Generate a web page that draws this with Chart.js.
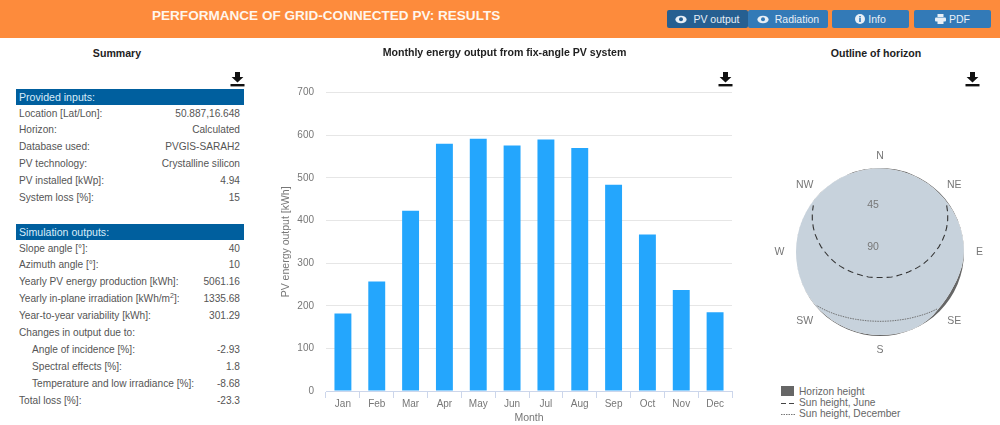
<!DOCTYPE html>
<html>
<head>
<meta charset="utf-8">
<title>PVGIS results</title>
<script src="https://cdn.jsdelivr.net/npm/chart.js@4"></script>
<style>
  html, body { margin: 0; padding: 0; background: #fff; }
  body { width: 1000px; height: 425px; position: relative; overflow: hidden; font-family: "Liberation Sans", Arial, sans-serif; }
  .topbar { position: absolute; left: 0; top: 0; width: 1000px; height: 38px; background: #fd8b3c; }
  .topbar h1 { position: absolute; left: 152px; top: 8px; margin: 0; font-size: 13.55px; line-height: 15px; font-weight: bold; color: #fff6ec; white-space: nowrap; }
  .btn { position: absolute; top: 10px; height: 18px; line-height: 18px; background: #337ab7; color: #e8eff6; font-size: 10.5px; text-align: center; border-radius: 2px; white-space: nowrap; }
  .btn.active { background: #265f91; }
  .btn svg { vertical-align: -1px; margin-right: 3px; }
  .heading { position: absolute; top: 46px; font-size: 10.6px; line-height: 14px; font-weight: bold; color: #222; transform: translateX(-50%); white-space: nowrap; }
  .dl { position: absolute; top: 72px; }
  .band { position: absolute; left: 16px; width: 228px; height: 16px; line-height: 16px; background: #005f9e; color: #d8ecfa; font-size: 10.6px; text-indent: 3px; }
  .row { position: absolute; left: 19px; width: 221px; height: 17px; line-height: 17px; font-size: 10.15px; color: #555; }
  .row span:last-child { position: absolute; right: 0; }
  .row.sub span:first-child { margin-left: 13px; }
  sup { font-size: 7px; line-height: 0; }
  #barBox { position: absolute; left: 270px; top: 40px; width: 470px; height: 385px; }
  #polarBox { position: absolute; left: 770px; top: 142px; width: 221px; height: 221px; }
  .lg { position: absolute; left: 799px; height: 11px; line-height: 11px; font-size: 10.2px; color: #666; white-space: nowrap; }
  .lgk { position: absolute; left: 781px; }
</style>
</head>
<body>
<div class="topbar">
  <h1>PERFORMANCE OF GRID-CONNECTED PV: RESULTS</h1>
  <div class="btn active" style="left:667px;width:81px"><svg width="12" height="9" viewBox="0 0 12 9"><ellipse cx="6" cy="4.5" rx="5.6" ry="3.8" fill="#e8eff6"/><circle cx="6" cy="4.2" r="2" fill="#265f91"/></svg> PV output</div>
  <div class="btn" style="left:748px;width:80px"><svg width="12" height="9" viewBox="0 0 12 9"><ellipse cx="6" cy="4.5" rx="5.6" ry="3.8" fill="#e8eff6"/><circle cx="6" cy="4.2" r="2" fill="#337ab7"/></svg> Radiation</div>
  <div class="btn" style="left:832px;width:77px"><svg width="10" height="10" viewBox="0 0 10 10"><circle cx="5" cy="5" r="5" fill="#e8eff6"/><rect x="4.2" y="4" width="1.6" height="4" fill="#337ab7"/><rect x="4.2" y="2" width="1.6" height="1.4" fill="#337ab7"/></svg>Info</div>
  <div class="btn" style="left:914px;width:77px"><svg width="11" height="10" viewBox="0 0 11 10"><rect x="2.5" y="0" width="6" height="3" fill="#e8eff6"/><rect x="0" y="3.5" width="11" height="4" rx="1" fill="#e8eff6"/><rect x="2.5" y="7" width="6" height="3" fill="#e8eff6"/></svg>PDF</div>
</div>

<div class="heading" style="left:117px">Summary</div>
<div class="heading" style="left:876px">Outline of horizon</div>

<div id="panel"></div>

<div id="barBox"><canvas id="barChart"></canvas></div>
<div id="polarBox"><canvas id="polarChart"></canvas></div>

<svg class="lgk" style="top:386px" width="14" height="34" viewBox="0 0 14 34">
  <rect x="0" y="0" width="13" height="10" fill="#666"/>
  <line x1="0" y1="17.5" x2="14" y2="17.5" stroke="#444" stroke-width="1" stroke-dasharray="5,3"/>
  <line x1="0" y1="28.5" x2="14" y2="28.5" stroke="#777" stroke-width="1" stroke-dasharray="1.5,1"/>
</svg>
<div class="lg" style="top:386px">Horizon height</div>
<div class="lg" style="top:397px">Sun height, June</div>
<div class="lg" style="top:408px">Sun height, December</div>

<script>
"use strict";

// Monthly output [kWh]
const months = ["Jan", "Feb", "Mar", "Apr", "May", "Jun", "Jul", "Aug", "Sep", "Oct", "Nov", "Dec"];
const energyOutput = [182, 257, 423, 580, 592, 576, 590, 570, 484, 367, 237, 185];
const energyTicks = [0, 100, 200, 300, 400, 500, 600, 700];

// Summary tables
const inputRows = [
  ["Location [Lat/Lon]:", "50.887,16.648"],
  ["Horizon:", "Calculated"],
  ["Database used:", "PVGIS-SARAH2"],
  ["PV technology:", "Crystalline silicon"],
  ["PV installed [kWp]:", "4.94"],
  ["System loss [%]:", "15"],
];
const outputRows = [
  ["Slope angle [°]:", "40"],
  ["Azimuth angle [°]:", "10"],
  ["Yearly PV energy production [kWh]:", "5061.16"],
  ["Yearly in-plane irradiation [kWh/m<sup>2</sup>]:", "1335.68"],
  ["Year-to-year variability [kWh]:", "301.29"],
  ["Changes in output due to:", ""],
  ["Angle of incidence [%]:", "-2.93", "sub"],
  ["Spectral effects [%]:", "1.8", "sub"],
  ["Temperature and low irradiance [%]:", "-8.68", "sub"],
  ["Total loss [%]:", "-23.3"],
];

// Polar data: one value per 5 degrees of azimuth, starting at north, clockwise
const compass = { 0: "N", 9: "NE", 18: "E", 27: "SE", 36: "S", 45: "SW", 54: "W", 63: "NW" };
const horizonHeight = [
  0.6, 0.8, 0.8, 0.8, 0.8, 0.8, 0.8, 0.8, 0.8, 0.8, 0.7, 0.6,
  0.5, 0.4, 0.3, 0.2, 0.2, 0.2, 0.3, 0.6, 1, 1.8, 2.4, 3,
  3.2, 3.2, 3, 2.6, 1.6, 1, 0.6, 0.5, 0.5, 0.6, 0.8, 1,
  1, 1, 1, 1, 1, 1, 0.9, 0.8, 0.7, 0.5, 0.4, 0.3,
  0.2, 0.1, 0.1, 0, 0, 0, 0, 0, 0, 0, 0, 0,
  0, 0.1, 0.1, 0.2, 0.2, 0.2, 0.3, 0.3, 0.4, 0.4, 0.5, 0.5,
];
const sunJune = [
  null, null, null, null, null, null, null, null, null, null, null, 2.8,
  6.2, 10, 14, 18.2, 22.5, 26.7, 31, 34.8, 38.5, 41.7, 45, 47.9,
  50.6, 52.8, 54.7, 56.4, 57.7, 58.8, 59.8, 60.5, 61.2, 61.8, 62.2, 62.5,
  62.6, 62.5, 62.2, 61.8, 61.2, 60.5, 59.8, 58.8, 57.7, 56.4, 54.7, 52.8,
  50.6, 47.9, 45, 41.7, 38.5, 34.8, 31, 26.7, 22.5, 18.2, 14, 10,
  6.2, 2.8, null, null, null, null, null, null, null, null, null, null,
];
const sunDecember = [
  null, null, null, null, null, null, null, null, null, null, null, null,
  null, null, null, null, null, null, null, null, null, null, null, null,
  null, null, null, 3.6, 6, 8.2, 10.3, 11.9, 13.3, 14.4, 15.1, 15.6,
  15.7, 15.6, 15.1, 14.4, 13.3, 11.9, 10.3, 8.2, 6, 3.6, 1, null,
  null, null, null, null, null, null, null, null, null, null, null, null,
  null, null, null, null, null, null, null, null, null, null, null, null,
];

const FONT = "'Liberation Sans', Arial, sans-serif";

// Build the left column
function addRows(panel, title, rows, top) {
  const band = document.createElement("div");
  band.className = "band";
  band.style.top = top + "px";
  band.textContent = title;
  panel.appendChild(band);
  rows.forEach((row, i) => {
    const el = document.createElement("div");
    el.className = "row" + (row[2] ? " " + row[2] : "");
    el.style.top = top + 16 + i * 16.9 + "px";
    el.innerHTML = `<span>${row[0]}</span><span>${row[1]}</span>`;
    panel.appendChild(el);
  });
}

function addDownloadIcon(x) {
  const holder = document.createElement("div");
  holder.className = "dl";
  holder.style.left = x + "px";
  holder.innerHTML =
    '<svg width="15" height="15" viewBox="0 0 15 15"><path d="M5 0h5v5h3.4L7.5 10.6 1.6 5H5z" fill="#111"/><rect x="0.5" y="12" width="14" height="2.4" fill="#111"/></svg>';
  document.body.appendChild(holder);
}

const panel = document.getElementById("panel");
addRows(panel, "Provided inputs:", inputRows, 88.5);
addRows(panel, "Simulation outputs:", outputRows, 223.5);
[230, 718, 965].forEach(addDownloadIcon);

// Monthly bars
new Chart(document.getElementById("barChart"), {
  type: "bar",
  data: {
    labels: months,
    datasets: [
      {
        data: energyOutput,
        backgroundColor: "#24a6fd",
        barPercentage: 0.5,
        categoryPercentage: 1,
      },
    ],
  },
  options: {
    responsive: true,
    maintainAspectRatio: false,
    animation: false,
    layout: { padding: { left: 7, right: 8 } },
    plugins: {
      legend: { display: false },
      tooltip: { enabled: false },
      title: {
        display: true,
        text: "Monthly energy output from fix-angle PV system",
        color: "#222",
        font: { family: FONT, size: 10.6, weight: "bold" },
        padding: { top: 7, bottom: 33 },
      },
    },
    scales: {
      x: {
        afterFit: (scale) => {
          scale.height = 34;
        },
        border: { color: "#ccd6eb" },
        grid: { drawOnChartArea: false, tickLength: 7, color: "#ccd6eb" },
        ticks: { color: "#777", font: { family: FONT, size: 10 }, padding: 0 },
        title: { display: true, text: "Month", color: "#777", font: { family: FONT, size: 10.5 }, padding: { top: 0, bottom: 1 } },
      },
      y: {
        min: 0,
        max: 700,
        afterFit: (scale) => {
          scale.width = 49;
        },
        afterBuildTicks: (scale) => {
          scale.ticks = energyTicks.map((value) => ({ value }));
        },
        border: { display: false },
        grid: { color: "#e6e6e6", drawTicks: false },
        ticks: { color: "#777", font: { family: FONT, size: 10 }, padding: 12 },
        title: { display: true, text: "PV energy output [kWh]", color: "#777", font: { family: FONT, size: 10.5 }, padding: { top: 3, bottom: 0 } },
      },
    },
  },
});

// Compass names and the 45/90 labels are placed around the scale by hand
const compassNudge = {
  N: [0, 2.5], NE: [5, 2], E: [1.5, 0], SE: [5, 0],
  S: [0, 0], SW: [-6, 0], W: [-2.5, 0], NW: [-6, 2],
};
const polarLabels = {
  id: "polarLabels",
  afterDatasetsDraw(chart) {
    const scale = chart.scales.r;
    const ctx = chart.ctx;
    ctx.save();
    ctx.font = "10.5px " + FONT;
    ctx.textAlign = "center";
    ctx.textBaseline = "middle";
    ctx.fillStyle = "#777";
    Object.keys(compass).forEach((i) => {
      const name = compass[i];
      const p = scale.getPointPosition(Number(i), 98);
      ctx.fillText(name, p.x + compassNudge[name][0], p.y + compassNudge[name][1]);
    });
    [45, 90].forEach((value) => {
      const p = scale.getPointPositionForValue(0, value);
      ctx.fillText(String(value), p.x - 7, p.y - 5);
    });
    ctx.restore();
  },
};

// Horizon outline and sun paths
new Chart(document.getElementById("polarChart"), {
  type: "radar",
  data: {
    labels: horizonHeight.map((_, i) => i * 5),
    datasets: [
      { data: sunJune, borderColor: "#333", borderWidth: 1.1, borderDash: [6, 4], fill: false, pointRadius: 0 },
      { data: sunDecember, borderColor: "#666", borderWidth: 0.9, borderDash: [1.5, 1], fill: false, pointRadius: 0 },
      { data: horizonHeight, borderWidth: 0, backgroundColor: "#c7d2dc", fill: "start", pointRadius: 0 },
      { data: horizonHeight, borderWidth: 0, backgroundColor: "#666", fill: "end", pointRadius: 0 },
    ],
  },
  options: {
    responsive: true,
    maintainAspectRatio: false,
    animation: false,
    layout: { padding: 26 },
    plugins: { legend: { display: false }, tooltip: { enabled: false } },
    scales: {
      r: {
        min: 0,
        max: 90,
        reverse: true,
        grid: { display: false, circular: true },
        angleLines: { display: false },
        pointLabels: { display: false },
        ticks: { display: false, stepSize: 45 },
      },
    },
  },
  plugins: [polarLabels],
});
</script>
</body>
</html>
